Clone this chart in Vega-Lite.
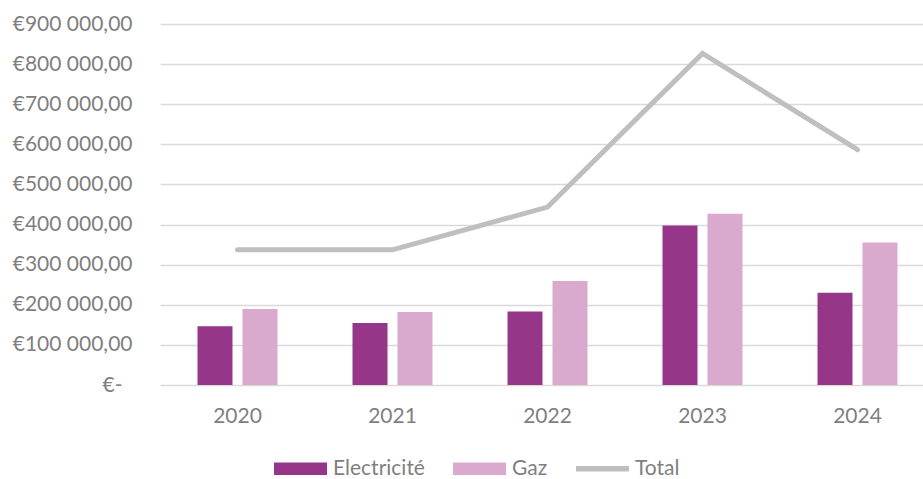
{
  "$schema": "https://vega.github.io/schema/vega-lite/v6.json",
  "width": 775,
  "height": 361,
  "autosize": "none",
  "padding": {"left": 160, "top": 24, "right": 0, "bottom": 94},
  "background": "white",
  "config": {"font": "Lato", "view": {"stroke": null}},
  "data": {
    "values": [
      {"annee": "2020", "serie": "Electricité", "valeur": 146500},
      {"annee": "2020", "serie": "Gaz", "valeur": 189500},
      {"annee": "2020", "serie": "Total", "valeur": 337000},
      {"annee": "2021", "serie": "Electricité", "valeur": 154600},
      {"annee": "2021", "serie": "Gaz", "valeur": 182000},
      {"annee": "2021", "serie": "Total", "valeur": 337000},
      {"annee": "2022", "serie": "Electricité", "valeur": 183000},
      {"annee": "2022", "serie": "Gaz", "valeur": 259400},
      {"annee": "2022", "serie": "Total", "valeur": 443500},
      {"annee": "2023", "serie": "Electricité", "valeur": 397800},
      {"annee": "2023", "serie": "Gaz", "valeur": 427000},
      {"annee": "2023", "serie": "Total", "valeur": 826500},
      {"annee": "2024", "serie": "Electricité", "valeur": 230000},
      {"annee": "2024", "serie": "Gaz", "valeur": 355400},
      {"annee": "2024", "serie": "Total", "valeur": 586500}
    ]
  },
  "layer": [
    {
      "transform": [{"filter": "datum.serie !== 'Total'"}],
      "mark": {"type": "bar"},
      "encoding": {
        "x": {
          "field": "annee",
          "type": "nominal",
          "scale": {"paddingInner": 0.484, "paddingOuter": 0.242},
          "axis": {
            "title": null,
            "labelAngle": 0,
            "domain": false,
            "ticks": false,
            "tickSize": 0,
            "grid": false,
            "labelFontSize": 21,
            "labelColor": "#7F7F7F",
            "labelPadding": 20
          }
        },
        "xOffset": {
          "field": "serie",
          "scale": {"domain": ["Electricité", "Gaz"], "paddingInner": 0.222, "paddingOuter": 0}
        },
        "y": {
          "field": "valeur",
          "type": "quantitative",
          "scale": {"domain": [0, 900000], "nice": false},
          "axis": {
            "title": null,
            "values": [0, 100000, 200000, 300000, 400000, 500000, 600000, 700000, 800000, 900000],
            "domain": false,
            "ticks": false,
            "tickSize": 0,
            "grid": true,
            "gridColor": "#D9D9D9",
            "gridWidth": 1.5,
            "labelFontSize": 21,
            "labelColor": "#7F7F7F",
            "labelPadding": {"condition": {"test": "datum.value == 0", "value": 38}, "value": 28},
            "labelExpr": "datum.value == 0 ? '€-' : '€' + replace(replace(format(datum.value, ',.2f'), ',', ' '), '.', ',')"
          }
        },
        "color": {
          "field": "serie",
          "type": "nominal",
          "scale": {
            "domain": ["Electricité", "Gaz", "Total"],
            "range": ["#953689", "#D9AACE", "#BFBFBF"]
          },
          "legend": {
            "title": null,
            "orient": "none",
            "direction": "horizontal",
            "legendX": 114,
            "legendY": 418,
            "symbolSize": 2809,
            "labelFontSize": 21,
            "labelColor": "#7F7F7F",
            "labelOffset": 6,
            "labelLimit": 300,
            "columnPadding": 28,
            "symbolStrokeWidth": 0,
            "encode": {
              "symbols": {
                "update": {
                  "shape": {"signal": "datum.value === 'Total' ? 'M-1,-0.1H1V0.1H-1Z' : 'M-1,-0.24H1V0.24H-1Z'"},
                  "fill": {"signal": "datum.value === 'Total' ? '#BFBFBF' : (datum.value === 'Gaz' ? '#D9AACE' : '#953689')"},
                  "strokeWidth": {"value": 0}
                }
              }
            }
          }
        }
      }
    },
    {
      "transform": [{"filter": "datum.serie === 'Total'"}],
      "mark": {"type": "line", "color": "#BFBFBF", "strokeWidth": 5, "strokeCap": "round"},
      "encoding": {
        "x": {"field": "annee", "type": "nominal"},
        "y": {"field": "valeur", "type": "quantitative"}
      }
    }
  ]
}
